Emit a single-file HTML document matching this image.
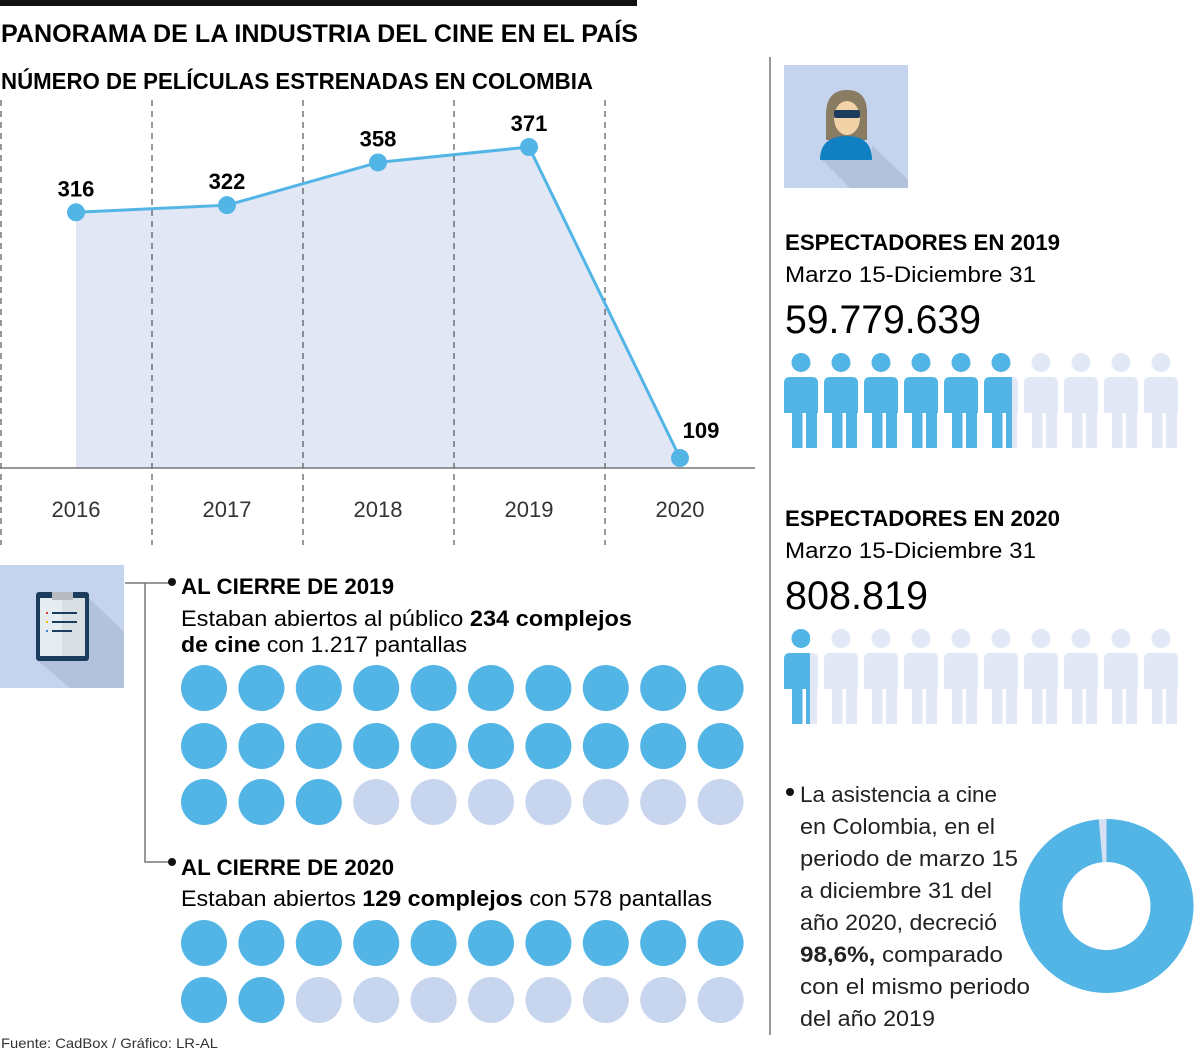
<!DOCTYPE html>
<html><head><meta charset="utf-8">
<style>
body{margin:0;background:#fff;}
#root{position:relative;width:1200px;height:1051px;overflow:hidden;font-family:"Liberation Sans",sans-serif;color:#111;}
svg text{font-family:"Liberation Sans",sans-serif;}
</style></head>
<body>
<div id="root">
<svg id="s" width="1200" height="1051" xmlns="http://www.w3.org/2000/svg">
  <rect x="0" y="0" width="637" height="6" fill="#111"/>
  <text x="1" y="42" font-size="25" font-weight="bold" textLength="637" lengthAdjust="spacingAndGlyphs">PANORAMA DE LA INDUSTRIA DEL CINE EN EL PAÍS</text>
  <text x="1" y="89" font-size="23" font-weight="bold" textLength="592" lengthAdjust="spacingAndGlyphs">NÚMERO DE PELÍCULAS ESTRENADAS EN COLOMBIA</text>
  <g id="chart"></g>
  <line x1="770" y1="57" x2="770" y2="1035" stroke="#999" stroke-width="2"/>

  <g>
    <rect x="784" y="65" width="124" height="123" fill="#c5d4ee"/>
    <polygon points="872,145 908,180 908,188 850,188 822,160 872,160" fill="#b3c2dc"/>
    <path d="M826,115 Q826,90 847,90 Q868,90 867,115 L867,140 L826,140 Z" fill="#8a7b63"/>
    <ellipse cx="847" cy="118" rx="13" ry="17" fill="#f2d3a8"/>
    <rect x="834" y="110" width="26" height="8" rx="2" fill="#1b3c5c"/>
    <path d="M820,160 Q820,136 847,136 Q872,136 872,160 Z" fill="#1180c2"/>
  </g>

  <text x="785" y="250" font-size="22" font-weight="bold" textLength="275" lengthAdjust="spacingAndGlyphs">ESPECTADORES EN 2019</text>
  <text x="785" y="282" font-size="22" textLength="251" lengthAdjust="spacingAndGlyphs">Marzo 15-Diciembre 31</text>
  <text x="785" y="333" font-size="40" textLength="196" lengthAdjust="spacingAndGlyphs">59.779.639</text>
  <g id="people2019"></g>

  <text x="785" y="526" font-size="22" font-weight="bold" textLength="275" lengthAdjust="spacingAndGlyphs">ESPECTADORES EN 2020</text>
  <text x="785" y="558" font-size="22" textLength="251" lengthAdjust="spacingAndGlyphs">Marzo 15-Diciembre 31</text>
  <text x="785" y="609" font-size="40" textLength="143" lengthAdjust="spacingAndGlyphs">808.819</text>
  <g id="people2020"></g>

  <g>
    <rect x="0" y="565" width="124" height="123" fill="#c5d4ee"/>
    <polygon points="89,598 124,632 124,688 70,688 37,660 89,660" fill="#b3c2dc"/>
    <rect x="36" y="592" width="53" height="69" rx="3" fill="#1b3c5c"/>
    <rect x="40" y="598" width="45" height="58" fill="#e6ecef"/>
    <rect x="62" y="598" width="23" height="58" fill="#d8e0e4"/>
    <rect x="52" y="592" width="21" height="8" fill="#b8bcc0"/>
    <rect x="46" y="612" width="2" height="2" fill="#e53935"/><rect x="52" y="612" width="25" height="2" fill="#1b3c5c"/>
    <rect x="46" y="621" width="2" height="2" fill="#f4c20d"/><rect x="52" y="621" width="25" height="2" fill="#1b3c5c"/>
    <rect x="46" y="630" width="2" height="2" fill="#3b82d8"/><rect x="52" y="630" width="20" height="2" fill="#1b3c5c"/>
  </g>
  <path d="M125,583 H170 M145,583 V862 H170" stroke="#777" stroke-width="1.5" fill="none"/>
  <circle cx="172" cy="582" r="4" fill="#111"/>
  <circle cx="172" cy="862" r="4" fill="#111"/>
  <text x="181" y="594" font-size="22" font-weight="bold" textLength="213" lengthAdjust="spacingAndGlyphs">AL CIERRE DE 2019</text>
  <text x="181" y="626" font-size="22" textLength="451" lengthAdjust="spacingAndGlyphs">Estaban abiertos al público <tspan font-weight="bold">234 complejos</tspan></text>
  <text x="181" y="652" font-size="22" textLength="286" lengthAdjust="spacingAndGlyphs"><tspan font-weight="bold">de cine</tspan> con 1.217 pantallas</text>
  <g id="dots2019"></g>
  <text x="181" y="875" font-size="22" font-weight="bold" textLength="213" lengthAdjust="spacingAndGlyphs">AL CIERRE DE 2020</text>
  <text x="181" y="906" font-size="22" textLength="531" lengthAdjust="spacingAndGlyphs">Estaban abiertos <tspan font-weight="bold">129 complejos</tspan> con 578 pantallas</text>
  <g id="dots2020"></g>

  <text x="1" y="1048" font-size="14" fill="#333" textLength="217" lengthAdjust="spacingAndGlyphs">Fuente: CadBox / Gráfico: LR-AL</text>

  <circle cx="790" cy="792" r="4" fill="#111"/>
  <g font-size="22" fill="#222">
    <text x="800" y="802" textLength="197" lengthAdjust="spacingAndGlyphs">La asistencia a cine</text>
    <text x="800" y="834" textLength="195" lengthAdjust="spacingAndGlyphs">en Colombia, en el</text>
    <text x="800" y="866" textLength="218" lengthAdjust="spacingAndGlyphs">periodo de marzo 15</text>
    <text x="800" y="898" textLength="192" lengthAdjust="spacingAndGlyphs">a diciembre 31 del</text>
    <text x="800" y="930" textLength="197" lengthAdjust="spacingAndGlyphs">año 2020, decreció</text>
    <text x="800" y="962" textLength="203" lengthAdjust="spacingAndGlyphs"><tspan font-weight="bold">98,6%,</tspan> comparado</text>
    <text x="800" y="994" textLength="230" lengthAdjust="spacingAndGlyphs">con el mismo periodo</text>
    <text x="800" y="1026" textLength="135" lengthAdjust="spacingAndGlyphs">del año 2019</text>
  </g>
  <g id="donut"></g>
</svg>
</div>
<script>
const years = ["2016","2017","2018","2019","2020"];
const films = [316, 322, 358, 371, 109];
const spectators2019Filled = 5.7;
const spectators2020Filled = 0.65;
const complexes2019Open = 23;
const complexes2020Open = 12;
const decreasePct = 98.6;

const NS = "http://www.w3.org/2000/svg";
function mk(tag, attrs, parent){
  const e = document.createElementNS(NS, tag);
  for (const k in attrs) e.setAttribute(k, attrs[k]);
  parent.appendChild(e);
  return e;
}
const BLUE = "#52b5e6", LIGHT = "#e2e8f5", DOTL = "#c8d5ee";

const chart = document.getElementById('chart');
const xAt = i => 76 + i * 151;
const yAt = v => 587.4 - v * 1.187;
const baseY = 468;
let area = `M${xAt(0)},${baseY}`;
films.forEach((v,i)=>{ area += ` L${xAt(i)},${yAt(v)}`; });
area += ` L${xAt(films.length-1)},${baseY} Z`;
const a = mk('path', {d: area, fill: '#e2e7f5'}, chart);


for (let i = 0; i < 5; i++) {
  const l = mk('line', {x1: 1 + i*151, y1: 100, x2: 1 + i*151, y2: 545, stroke: '#333', 'stroke-width': 1, 'stroke-dasharray': '6,5'}, chart);
  
  
}
const ax = mk('line', {x1: 0, y1: baseY, x2: 755, y2: baseY, stroke: '#777', 'stroke-width': 1.5}, chart);


const pl = mk('polyline', {points: films.map((v,i)=>`${xAt(i)},${yAt(v)}`).join(' '), fill: 'none', stroke: BLUE, 'stroke-width': 3}, chart);


films.forEach((v,i)=>{
  const c = mk('circle', {cx: xAt(i), cy: yAt(v), r: 9, fill: BLUE}, chart);
  
  
  const last = i === films.length - 1;
  const t = mk('text', {x: last ? xAt(i)+21 : xAt(i), y: last ? yAt(v)-20 : yAt(v)-16, 'font-size': 22, 'font-weight': 'bold', 'text-anchor': 'middle'}, chart);
  t.textContent = v;
  
  
  const yl = mk('text', {x: xAt(i), y: 517, 'font-size': 22, fill: '#333', 'text-anchor': 'middle'}, chart);
  yl.textContent = years[i];
  
  
});

function person(g, x, top, color){
  mk('circle', {cx: x+17, cy: top+9.5, r: 9.5, fill: color}, g);
  mk('path', {d: `M${x},${top+60} V${top+30} Q${x},${top+24} ${x+6},${top+24} H${x+28} Q${x+34},${top+24} ${x+34},${top+30} V${top+60} Z`, fill: color}, g);
  mk('rect', {x: x+8, y: top+59, width: 10.5, height: 36, fill: color}, g);
  mk('rect', {x: x+22, y: top+59, width: 11, height: 36, fill: color}, g);
}
function people(id, top, filled){
  const g = document.getElementById(id);
  const clipId = id + 'clip';
  const defs = mk('defs', {}, g);
  const cp = mk('clipPath', {id: clipId}, defs);
  mk('rect', {x: 784, y: top-5, width: filled * 40, height: 110}, cp);
  for (let i = 0; i < 10; i++) {
    const p = mk('g', {}, g);
    
    
    person(p, 784 + i*40, top, LIGHT);
  }
  const fg = mk('g', {'clip-path': `url(#${clipId})`}, g);
  for (let i = 0; i < 10; i++) person(fg, 784 + i*40, top, BLUE);
}
people('people2019', 353, spectators2019Filled);
people('people2020', 629, spectators2020Filled);

function dots(id, rows, open){
  const g = document.getElementById(id);
  rows.forEach((ry, r)=>{
    for (let i = 0; i < 10; i++) {
      const idx = r*10 + i;
      const c = mk('circle', {cx: 204 + i*57.4, cy: ry, r: 23, fill: idx < open ? BLUE : DOTL}, g);
      
      
    }
  });
}
dots('dots2019', [688, 746, 802], complexes2019Open);
dots('dots2020', [943, 1000], complexes2020Open);

const dg = document.getElementById('donut');
const cx = 1106.5, cy = 906, R = 87, r = 44;
function arc(a0, a1, color, name){
  const p = (ang, rad) => [cx + rad*Math.sin(ang), cy - rad*Math.cos(ang)];
  const large = (a1 - a0) > Math.PI ? 1 : 0;
  const [x0,y0] = p(a0,R), [x1,y1] = p(a1,R), [x2,y2] = p(a1,r), [x3,y3] = p(a0,r);
  const e = mk('path', {d: `M${x0},${y0} A${R},${R} 0 ${large} 1 ${x1},${y1} L${x2},${y2} A${r},${r} 0 ${large} 0 ${x3},${y3} Z`, fill: color}, dg);
  
  
}
const big = decreasePct / 100 * 2 * Math.PI;
arc(0, big, BLUE, 'donut-decrease-slice');
arc(big, 2*Math.PI - 0.0001, '#d6e0f2', 'donut-remaining-slice');
</script>
</body></html>
